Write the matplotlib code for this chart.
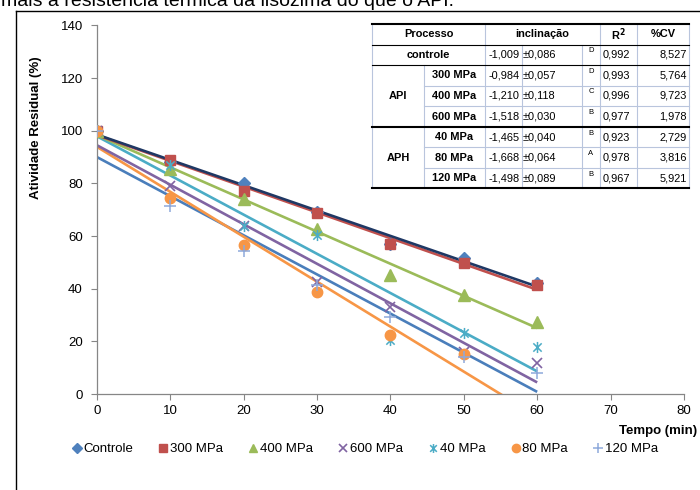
import numpy as np
import matplotlib
matplotlib.use("Agg")
import matplotlib.pyplot as plt
from matplotlib.lines import Line2D
from matplotlib.path import Path

plt.rcParams['font.family'] = ['Liberation Sans', 'DejaVu Sans']

# ---------------- data ----------------
times = [0, 10, 20, 30, 40, 50, 60]
controle = [100, 88.0, 80.2, 69.0, 57.0, 51.5, 42.2]
mpa300 = [100, 89.0, 77.0, 68.9, 56.9, 49.8, 41.4]
mpa400 = [100, 85.4, 73.9, 62.6, 45.1, 37.6, 27.4]
mpa600 = [100, 79.0, 63.7, 42.6, 33.1, 16.1, 11.9]
mpa40 = [100, 86.9, 64.0, 60.3, 20.5, 23.3, 17.9]
mpa80 = [100, 74.5, 56.5, 38.8, 22.4, 15.2, np.nan]
mpa120 = [100, 71.4, 54.2, 41.5, 29.3, 13.9, 7.8]

series_names = ['Controle', '300 MPa', '400 MPa', '600 MPa', '40 MPa', '80 MPa', '120 MPa']
series_values = [controle, mpa300, mpa400, mpa600, mpa40, mpa80, mpa120]

xticks = [0, 10, 20, 30, 40, 50, 60, 70, 80]
yticks = [0, 20, 40, 60, 80, 100, 120, 140]

# table data
tab_group = ['API', 'APH']
tab_process = ['controle', '300 MPa', '400 MPa', '600 MPa', '40 MPa', '80 MPa', '120 MPa']
tab_slope = ['-1,009', '-0,984', '-1,210', '-1,518', '-1,465', '-1,668', '-1,498']
tab_err = ['0,086', '0,057', '0,118', '0,030', '0,040', '0,064', '0,089']
tab_letter = ['D', 'D', 'C', 'B', 'B', 'A', 'B']
tab_r2 = ['0,992', '0,993', '0,996', '0,977', '0,923', '0,978', '0,967']
tab_cv = ['8,527', '5,764', '9,723', '1,978', '2,729', '3,816', '5,921']

# ---------------- styles ----------------
star = Path([(0, -1), (0, 1), (-0.75, -0.75), (0.75, 0.75), (-0.75, 0.75), (0.75, -0.75)],
            [Path.MOVETO, Path.LINETO, Path.MOVETO, Path.LINETO, Path.MOVETO, Path.LINETO])

marker_styles = [
    dict(marker='D', ms=6, color='#4F81BD', mec='#4F81BD'),
    dict(marker='s', ms=7.5, color='#C0504D', mec='#C0504D'),
    dict(marker='^', ms=8, color='#9BBB59', mec='#9BBB59'),
    dict(marker='x', ms=7, color='#8064A2', mec='#8064A2', mew=1.2),
    dict(marker=star, ms=8, color='#4BACC6', mec='#4BACC6', mew=1.1, mfc='none'),
    dict(marker='o', ms=7.5, color='#F79646', mec='#F79646'),
    dict(marker='+', ms=9, color='#8EA9DB', mec='#8EA9DB', mew=1.1),
]
line_colors = ['#1F3864', '#C0504D', '#9BBB59', '#8064A2', '#4BACC6', '#F79646', '#4A7EBB']

W, H = 700, 490
fig = plt.figure(figsize=(W / 100, H / 100), dpi=100)
fx = lambda x: x / W
fy = lambda y: 1 - y / H

ax_l, ax_r, ax_t, ax_b = 96.7, 684, 25.5, 394
ax = fig.add_axes([fx(ax_l), fy(ax_b), fx(ax_r - ax_l), (ax_b - ax_t) / H])

t = np.array(times, dtype=float)
# trendlines (drawn in reverse order so controle ends on top)
for i in reversed(range(len(series_values))):
    y = np.array(series_values[i], dtype=float)
    m = ~np.isnan(y)
    k, b = np.polyfit(t[m], y[m], 1)
    xs = np.array([0, 60])
    ax.plot(xs, k * xs + b, color=line_colors[i], lw=1.9, zorder=2 + (7 - i) * 0.01,
            solid_capstyle='butt')

for i, y in enumerate(series_values):
    st = dict(marker_styles[i])
    ax.plot(times, y, linestyle='none', zorder=3 + i * 0.01, **st)

ax.set_xlim(0, 80)
ax.set_ylim(0, 140)
ax.set_xticks(xticks)
ax.set_yticks(yticks)
ax.tick_params(axis='both', direction='out', length=4, color='#868686', labelsize=9.5,
               labelcolor='black', width=0.8)
ax.tick_params(axis='x', pad=4)
ax.tick_params(axis='y', pad=6)
for s in ['top', 'right']:
    ax.spines[s].set_visible(False)
for s in ['left', 'bottom']:
    ax.spines[s].set_color('#868686')
    ax.spines[s].set_linewidth(0.9)
ax.patch.set_alpha(0)

# axis titles
fig.text(fx(36), fy(128), 'Atividade Residual (%)', rotation=90, ha='center', va='center',
         fontsize=9.5, fontweight='bold')
fig.text(fx(697), fy(431), 'Tempo (min)', ha='right', va='center', fontsize=9.5,
         fontweight='bold')

# top cut-off text
fig.text(fx(1), fy(6.5), 'mais a resistência térmica da lisozima do que o API.', ha='left',
         va='baseline', fontsize=14.0)

# frame lines
fig.add_artist(Line2D([fx(16), fx(16)], [fy(11), fy(492)], color='black', lw=1.0))
fig.add_artist(Line2D([fx(16), fx(700)], [fy(11), fy(11)], color='black', lw=1.0))

# legend
handles = [Line2D([], [], linestyle='none', **dict(marker_styles[i], ms=marker_styles[i]['ms'] * 0.8))
           for i in range(7)]
fig.legend(handles, series_names, loc='center', bbox_to_anchor=(fx(365), fy(449)), ncol=7,
           frameon=False, fontsize=9.5, handlelength=0.7, handletextpad=0.15,
           columnspacing=1.95, borderaxespad=0)

# ---------------- table ----------------
T_left, T_right = 372, 689
c_grp, c_val, c_pm, c_let, c_r2, c_cv = 424, 485, 522, 582, 600, 637
row_tops = [24 + 20.56 * i for i in range(9)]
light = '#B9C5DD'

fig.add_artist(plt.Rectangle((fx(T_left), fy(row_tops[-1])), fx(T_right - T_left),
                             (row_tops[-1] - row_tops[0]) / H, facecolor='white',
                             edgecolor='none', zorder=5))

def hline(y, x0, x1, color, lw):
    fig.add_artist(Line2D([fx(x0), fx(x1)], [fy(y), fy(y)], color=color, lw=lw, zorder=7))

def vline(x, y0, y1, color=light, lw=0.8):
    fig.add_artist(Line2D([fx(x), fx(x)], [fy(y0), fy(y1)], color=color, lw=lw, zorder=6))

# vertical lines
vline(T_left, row_tops[0], row_tops[-1])
vline(T_right, row_tops[0], row_tops[-1])
for x in [c_val, c_r2, c_cv]:
    vline(x, row_tops[0], row_tops[-1])
for x in [c_pm, c_let]:
    vline(x, row_tops[1], row_tops[-1])
vline(c_grp, row_tops[2], row_tops[-1])

# horizontal lines
for i in [3, 4, 6, 7]:
    hline(row_tops[i], c_grp, T_right, light, 0.8)
hline(row_tops[1], T_left, T_right, '#000000', 0.8)
hline(row_tops[2], T_left, T_right, '#000000', 0.8)
hline(row_tops[0], T_left, T_right, '#000000', 1.5)
hline(row_tops[5], T_left, T_right, '#000000', 1.5)
hline(row_tops[8], T_left, T_right, '#000000', 1.5)

fs = 7.9
def cell_text(x, row, s, ha='center', bold=False, size=fs, dy=0.0):
    yc = (row_tops[row] + row_tops[row + 1]) / 2 + dy
    fig.text(fx(x), fy(yc), s, ha=ha, va='center', fontsize=size,
             fontweight='bold' if bold else 'normal', zorder=8)

# header
cell_text((T_left + c_val) / 2, 0, 'Processo', bold=True)
cell_text((c_val + c_r2) / 2, 0, 'inclinação', bold=True)
cell_text((c_r2 + c_cv) / 2, 0, 'R$^\\mathbf{2}$', bold=True)
cell_text((c_cv + T_right) / 2, 0, '%CV', bold=True)

for r in range(7):
    row = r + 1
    if r == 0:
        cell_text((T_left + c_val) / 2, row, tab_process[r], bold=True)
    else:
        cell_text((c_grp + c_val) / 2, row, tab_process[r], bold=True)
    cell_text(c_pm - 2, row, tab_slope[r], ha='right')
    cell_text(c_pm + 1, row, '±' + tab_err[r], ha='left')
    cell_text((c_let + c_r2) / 2, row, tab_letter[r], size=5.5, dy=-4)
    cell_text(c_r2 + 3, row, tab_r2[r], ha='left')
    cell_text(T_right - 2, row, tab_cv[r], ha='right')

# group labels
fig.text(fx((T_left + c_grp) / 2), fy((row_tops[2] + row_tops[5]) / 2), tab_group[0],
         ha='center', va='center', fontsize=fs, fontweight='bold', zorder=8)
fig.text(fx((T_left + c_grp) / 2), fy((row_tops[5] + row_tops[8]) / 2), tab_group[1],
         ha='center', va='center', fontsize=fs, fontweight='bold', zorder=8)

fig.savefig('out.png', dpi=100)
